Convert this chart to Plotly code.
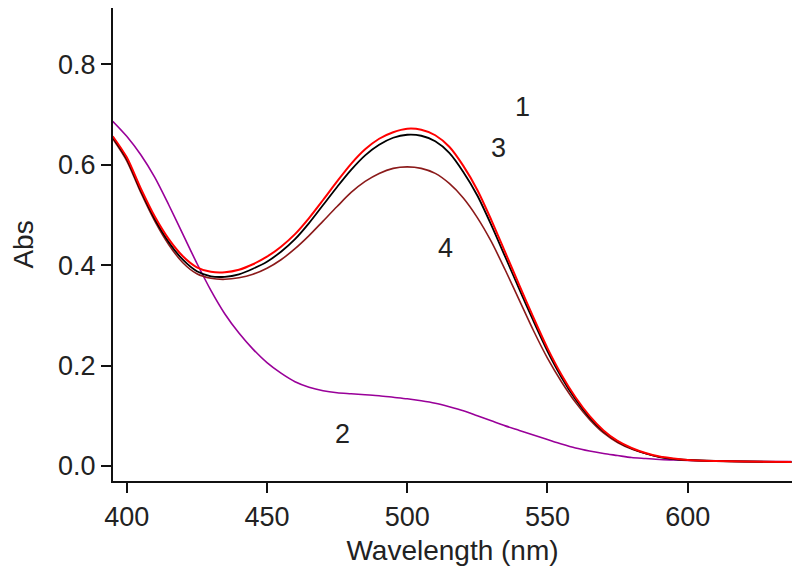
import plotly.graph_objects as go

wavelength = [395, 400, 405, 410, 415, 420, 425, 430, 435, 440, 445, 450, 455, 460, 465,
              470, 475, 480, 485, 490, 495, 500, 505, 510, 515, 520, 525, 530, 535, 540,
              545, 550, 555, 560, 565, 570, 575, 580, 585, 590, 595, 600, 610, 620, 637]

abs_1 = [0.657, 0.615, 0.553, 0.497, 0.452, 0.418, 0.396, 0.387, 0.386, 0.391, 0.402, 0.417,
         0.437, 0.462, 0.494, 0.530, 0.567, 0.602, 0.631, 0.652, 0.665, 0.672, 0.670, 0.659,
         0.636, 0.598, 0.550, 0.490, 0.425, 0.360, 0.296, 0.235, 0.182, 0.137, 0.100, 0.071,
         0.050, 0.036, 0.026, 0.019, 0.015, 0.012, 0.010, 0.009, 0.008]

abs_2 = [0.687, 0.657, 0.620, 0.575, 0.520, 0.462, 0.404, 0.350, 0.303, 0.265, 0.233, 0.206,
         0.185, 0.168, 0.157, 0.150, 0.146, 0.144, 0.142, 0.140, 0.137, 0.134, 0.130, 0.125,
         0.118, 0.110, 0.100, 0.090, 0.080, 0.071, 0.062, 0.053, 0.044, 0.036, 0.030, 0.025,
         0.021, 0.017, 0.015, 0.013, 0.012, 0.011, 0.010, 0.009, 0.009]

abs_3 = [0.655, 0.612, 0.549, 0.492, 0.446, 0.411, 0.388, 0.378, 0.377, 0.382, 0.393, 0.407,
         0.427, 0.452, 0.484, 0.520, 0.556, 0.590, 0.619, 0.640, 0.654, 0.660, 0.658, 0.647,
         0.624, 0.586, 0.539, 0.480, 0.416, 0.352, 0.289, 0.229, 0.177, 0.133, 0.097, 0.069,
         0.049, 0.035, 0.025, 0.018, 0.014, 0.012, 0.010, 0.009, 0.008]

abs_4 = [0.652, 0.608, 0.545, 0.488, 0.441, 0.405, 0.383, 0.374, 0.372, 0.375, 0.382, 0.394,
         0.411, 0.433, 0.459, 0.488, 0.517, 0.545, 0.567, 0.583, 0.593, 0.596, 0.593, 0.583,
         0.563, 0.534, 0.495, 0.447, 0.390, 0.330, 0.270, 0.215, 0.168, 0.127, 0.093, 0.066,
         0.047, 0.034, 0.025, 0.018, 0.014, 0.012, 0.010, 0.009, 0.008]

x_ticks = [400, 450, 500, 550, 600]
y_ticks = [0.0, 0.2, 0.4, 0.6, 0.8]
y_tick_labels = ["0.0", "0.2", "0.4", "0.6", "0.8"]

curve_labels = ["1", "2", "3", "4"]
label_x = [541.2, 476.8, 532.6, 513.5]
label_y = [0.716, 0.063, 0.633, 0.435]

series = [
    (abs_2, "#990099", 1.6),
    (abs_4, "#8b1a1a", 1.6),
    (abs_3, "#000000", 1.8),
    (abs_1, "#ff0000", 2.0),
]

FONT = "Liberation Sans"
TXT = "#222222"

fig = go.Figure()
for ys, color, w in series:
    fig.add_trace(go.Scatter(x=wavelength, y=ys, mode="lines",
                             line=dict(color=color, width=w, shape="spline", smoothing=0.8),
                             showlegend=False, hoverinfo="skip"))

for t, lx, ly in zip(curve_labels, label_x, label_y):
    fig.add_annotation(x=lx, y=ly, text=t, showarrow=False,
                       font=dict(size=27, color=TXT, family=FONT))

axis_common = dict(showline=True, linecolor="#111111", linewidth=2.2, ticks="outside",
                   ticklen=10, tickwidth=1.5, tickcolor="#111111", showgrid=False,
                   zeroline=False, mirror=False, automargin=False,
                   tickfont=dict(size=27, color=TXT, family=FONT))

# the page body adds an 8px offset, so the figure is 8px smaller and margins compensate
fig.update_layout(
    width=792, height=566,
    margin=dict(l=105, r=8, t=0, b=93),
    paper_bgcolor="white", plot_bgcolor="white",
    xaxis=dict(range=[395.1, 637.2], tickvals=x_ticks,
               title=dict(text="Wavelength (nm)", standoff=10,
                          font=dict(size=28, color=TXT, family=FONT)),
               **axis_common),
    yaxis=dict(range=[-0.0298, 0.9125], tickvals=y_ticks, ticktext=y_tick_labels,
               title=dict(text="Abs", standoff=22,
                          font=dict(size=28, color=TXT, family=FONT)),
               **axis_common),
)

fig.write_html("out.html")
